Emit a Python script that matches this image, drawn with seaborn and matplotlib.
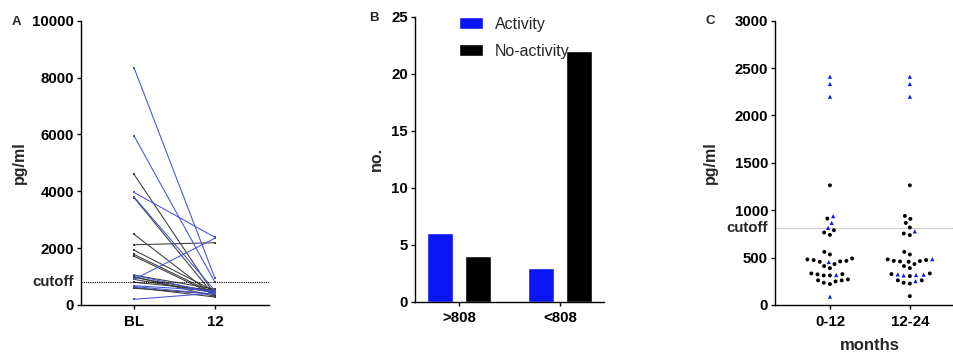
import numpy as np
import pandas as pd
import matplotlib
matplotlib.use("Agg")
import matplotlib.pyplot as plt
import seaborn as sns
from matplotlib.markers import MarkerStyle
from matplotlib.transforms import blended_transform_factory

# ---------------- data ----------------
# Panel A: paired values at baseline (BL) and month 12
time_labels = ["BL", "12"]
act_bl = [8350, 5950, 3960, 3800, 900, 1050, 680, 650, 200]
act_12 = [940, 800, 2380, 500, 2350, 420, 500, 380, 420]
noact_bl = [4600, 3780, 2490, 2120, 1930, 1780, 1720, 1050, 1000, 970, 900, 800, 620, 590]
noact_12 = [350, 300, 300, 2190, 480, 400, 350, 560, 300, 460, 430, 520, 280, 380]
cutoff = 808

# Panel B: counts
groups_b = [">808", "<808"]
activity_counts = [6, 3]
noactivity_counts = [4, 22]

# Panel C: scatter values by period
periods = ["0-12", "12-24"]
c_noact_0_12 = [1263, 912, 789, 765, 740, 561, 533, 491, 481, 474, 466, 456, 460, 432,
                411, 389, 333, 326, 323, 312, 312, 270, 260, 260, 249, 235, 221]
c_act_0_12 = [2409, 2332, 2198, 937, 866, 814, 453, 316, 88]
c_noact_12_24 = [1263, 940, 909, 866, 818, 754, 737, 561, 533, 481, 474, 466, 460, 456,
                 463, 432, 411, 389, 333, 326, 305, 260, 260, 235, 226, 94]
c_act_12_24 = [2409, 2332, 2198, 776, 484, 323, 316, 312, 320, 252]

# ---------------- style ----------------
sns.set_style("ticks")
plt.rcParams["font.family"] = ["Liberation Sans", "DejaVu Sans"]
plt.rcParams["font.weight"] = "bold"
plt.rcParams["axes.linewidth"] = 1.0
plt.rcParams["axes.edgecolor"] = "black"
plt.rcParams["xtick.color"] = "black"
plt.rcParams["ytick.color"] = "black"

BLUE = "#0a14f5"
LINE_BLUE = "#4152da"
TICK_FS = 10.8

fig = plt.figure(figsize=(9.54, 3.52), dpi=100)
W, H = 954, 352

def add_axes(left, right, top, bottom):
    return fig.add_axes([left / W, (H - bottom) / H, (right - left) / W, (bottom - top) / H])

axA = add_axes(81, 269, 20.7, 305)
axB = add_axes(415, 604, 16.7, 301.7)
axC = add_axes(775, 953, 20.7, 305)

def style_ax(ax):
    sns.despine(ax=ax)
    ax.tick_params(axis="both", length=3, width=1, labelsize=TICK_FS, colors="black")
    ax.tick_params(axis="y", pad=2)
    ax.tick_params(axis="x", pad=4)
    for lab in ax.get_xticklabels() + ax.get_yticklabels():
        lab.set_fontweight("bold")

# ---------------- Panel A ----------------
rows = []
for i, (a, b) in enumerate(zip(act_bl, act_12)):
    rows.append(dict(subject=f"a{i}", time=time_labels[0], value=a, group="Activity"))
    rows.append(dict(subject=f"a{i}", time=time_labels[1], value=b, group="Activity"))
for i, (a, b) in enumerate(zip(noact_bl, noact_12)):
    rows.append(dict(subject=f"n{i}", time=time_labels[0], value=a, group="No-activity"))
    rows.append(dict(subject=f"n{i}", time=time_labels[1], value=b, group="No-activity"))
dfa = pd.DataFrame(rows)

sns.lineplot(data=dfa, x="time", y="value", hue="group", units="subject", estimator=None,
             palette={"Activity": LINE_BLUE, "No-activity": "#3a3a3a"},
             hue_order=["No-activity", "Activity"],
             lw=0.75, marker="s", markersize=1.5, markeredgewidth=0, sort=False,
             legend=False, ax=axA)
axA.axhline(cutoff, color="black", ls=(0, (1, 1)), lw=0.8)
axA.set_xlim(-0.654, 1.667)
axA.set_ylim(0, 10000)
axA.set_yticks([0, 2000, 4000, 6000, 8000, 10000])
axA.set_xlabel("")
axA.set_ylabel("pg/ml", fontsize=11.5, fontweight="bold")
axA.yaxis.set_label_coords(-0.29, 0.5)
style_ax(axA)
axA.annotate("cutoff", xy=(0, cutoff), xycoords=blended_transform_factory(axA.transAxes, axA.transData),
             xytext=(-5.3, 0), textcoords="offset points", ha="right", va="center",
             fontsize=TICK_FS, fontweight="bold")

# ---------------- Panel B ----------------
dfb = pd.DataFrame({
    "group": groups_b * 2,
    "status": ["Activity"] * 2 + ["No-activity"] * 2,
    "count": activity_counts + noactivity_counts,
})
sns.barplot(data=dfb, x="group", y="count", hue="status", order=groups_b,
            hue_order=["Activity", "No-activity"],
            palette={"Activity": BLUE, "No-activity": "black"}, saturation=1,
            width=0.76, gap=0.32, ax=axB)
axB.set_xlim(-0.436, 1.436)
axB.set_ylim(0, 25)
axB.set_yticks([0, 5, 10, 15, 20, 25])
axB.set_xlabel("")
axB.set_ylabel("no.", fontsize=11.5, fontweight="bold")
axB.yaxis.set_label_coords(-0.165, 0.5)
style_ax(axB)
leg = axB.legend(frameon=False, loc="upper left", bbox_to_anchor=(0.233, 1.0),
                 handlelength=1.5, handleheight=0.75, handletextpad=0.75,
                 labelspacing=0.75, borderpad=0, borderaxespad=0,
                 prop={"family": ["Liberation Sans"], "weight": "normal", "size": 11.5})

# ---------------- Panel C ----------------
crow = []
for p, blk, act in [(periods[0], c_noact_0_12, c_act_0_12), (periods[1], c_noact_12_24, c_act_12_24)]:
    for v in blk:
        crow.append(dict(period=p, value=v, group="No-activity"))
    for v in act:
        crow.append(dict(period=p, value=v, group="Activity"))
dfc = pd.DataFrame(crow)

sns.swarmplot(data=dfc, x="period", y="value", hue="group", order=periods,
              hue_order=["No-activity", "Activity"],
              palette={"Activity": BLUE, "No-activity": "black"},
              size=4.3, linewidth=0, legend=False, ax=axC)
axC.axhline(cutoff, color="#b0b0b0", ls=(0, (1, 0.6)), lw=0.9, zorder=0)
axC.set_xlim(-0.6875, 1.54)
axC.set_ylim(0, 3000)
axC.set_yticks([0, 500, 1000, 1500, 2000, 2500, 3000])
axC.set_xlabel("months", fontsize=12, fontweight="bold")
axC.xaxis.set_label_coords(0.534, -0.115)
axC.set_ylabel("pg/ml", fontsize=11.5, fontweight="bold")
axC.yaxis.set_label_coords(-0.32, 0.5)
style_ax(axC)
axC.annotate("cutoff", xy=(0, cutoff), xycoords=blended_transform_factory(axC.transAxes, axC.transData),
             xytext=(-5.3, 0), textcoords="offset points", ha="right", va="center",
             fontsize=TICK_FS, fontweight="bold")

# panel letters
fig.text(12 / W, 1 - 21.7 / H, "A", fontsize=9.5, fontweight="bold", va="center", ha="left")
fig.text(369 / W, 1 - 18 / H, "B", fontsize=9.5, fontweight="bold", va="center", ha="left")
fig.text(705.5 / W, 1 - 21 / H, "C", fontsize=9.5, fontweight="bold", va="center", ha="left")

# compute swarm layout, then freeze it and restyle markers (dots / triangles)
fig.canvas.draw()
circ = MarkerStyle("o")
circ_path = circ.get_path().transformed(circ.get_transform())
tri = MarkerStyle("^")
tri_path = tri.get_path().transformed(tri.get_transform())
for coll in axC.collections:
    if "draw" in coll.__dict__:
        del coll.draw
    fcs = coll.get_facecolors()
    if len(fcs) == 0:
        continue
    paths, sizes = [], []
    for fc in fcs:
        if fc[2] > 0.5 and fc[0] < 0.5:
            paths.append(tri_path)
            sizes.append(9)
        else:
            paths.append(circ_path)
            sizes.append(8)
    coll.set_paths(paths)
    coll.set_sizes(sizes)

fig.savefig("out.png", dpi=100)
